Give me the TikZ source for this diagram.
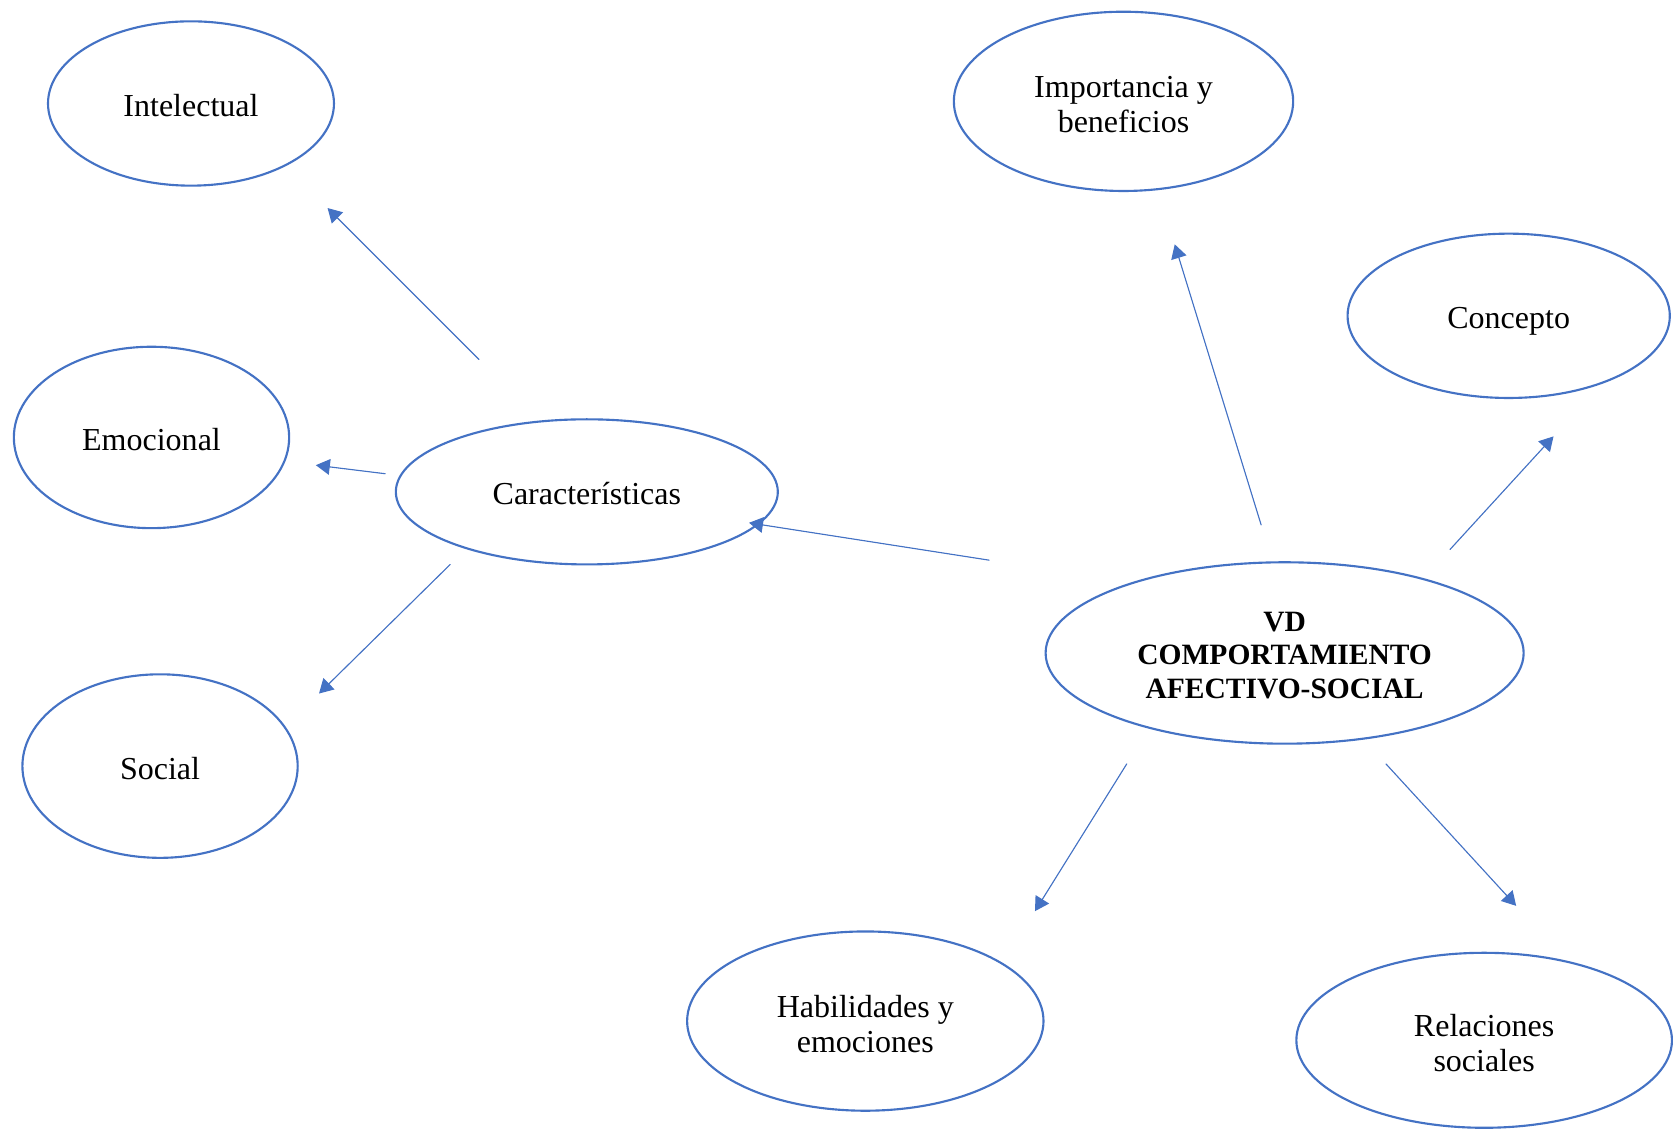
\documentclass[tikz,border=0pt]{standalone}
\usepackage{fontspec}
\setmainfont{Liberation Serif}
\usepackage{xcolor}
\usetikzlibrary{shapes.geometric}
\usetikzlibrary{arrows.meta}
\definecolor{azul}{HTML}{4472C4}
\newcommand{\alto}[1][14pt]{\rule{0pt}{#1}}

\begin{document}
\begin{tikzpicture}[line cap=round,line join=round,>={Triangle[length=5.6pt,width=6.3pt]},x=0.015cm,y=-0.015cm,
  burbuja/.style={draw=azul,line width=0.85pt,ellipse,inner sep=0pt,align=center,font=\fontsize{12.8}{14}\selectfont,
    execute at begin node={\rule[-2.8pt]{0pt}{16pt}}},
  negrita/.style={font=\fontsize{11.8}{13.5}\selectfont\bfseries},
  flecha/.style={->,draw=azul,fill=azul,line width=0.45pt}]
\useasboundingbox (0,0) rectangle (1568,1059);
\node[burbuja,minimum width=4.02cm,minimum height=2.31cm] (intelectual) at (179,97) {Intelectual};
\node[burbuja,minimum width=3.87cm,minimum height=2.55cm] (emocional) at (142,410) {Emocional};
\node[burbuja,minimum width=3.87cm,minimum height=2.58cm] (social) at (150,718) {Social};
\node[burbuja,minimum width=5.37cm,minimum height=2.04cm] (caracteristicas) at (550,461) {Características};
\node[burbuja,minimum width=4.77cm,minimum height=2.52cm] (importancia) at (1053,95) {\alto Importancia y\\beneficios};
\node[burbuja,minimum width=4.53cm,minimum height=2.31cm] (concepto) at (1414,296) {Concepto};
\node[burbuja,negrita,minimum width=6.72cm,minimum height=2.55cm] (vd) at (1204,612) {\alto[12.4pt]VD\\COMPORTAMIENTO\\AFECTIVO-SOCIAL};
\node[burbuja,minimum width=5.01cm,minimum height=2.52cm] (habilidades) at (811,957) {\alto Habilidades y\\emociones};
\node[burbuja,minimum width=5.28cm,minimum height=2.46cm] (relaciones) at (1391,975) {\alto Relaciones\\sociales};
% extremos de las flechas
\coordinate (c1) at (449,337);
\coordinate (i1) at (307,195);
\coordinate (c2) at (361,444);
\coordinate (e1) at (296,436);
\coordinate (c3) at (422,529);
\coordinate (s1) at (299,650);
\coordinate (v1) at (927,525);
\coordinate (c4) at (702,490);
\coordinate (v2) at (1182,492);
\coordinate (p1) at (1101,229);
\coordinate (v3) at (1359,515);
\coordinate (k1) at (1456,409);
\coordinate (v4) at (1056,716);
\coordinate (h1) at (970,854);
\coordinate (v5) at (1299,716);
\coordinate (r1) at (1421,849);
\draw [flecha] (c1) -- (i1);
\draw [flecha] (c2) -- (e1);
\draw [flecha] (c3) -- (s1);
\draw [flecha] (v1) -- (c4);
\draw [flecha] (v2) -- (p1);
\draw [flecha] (v3) -- (k1);
\draw [flecha] (v4) -- (h1);
\draw [flecha] (v5) -- (r1);
\end{tikzpicture}
\end{document}
